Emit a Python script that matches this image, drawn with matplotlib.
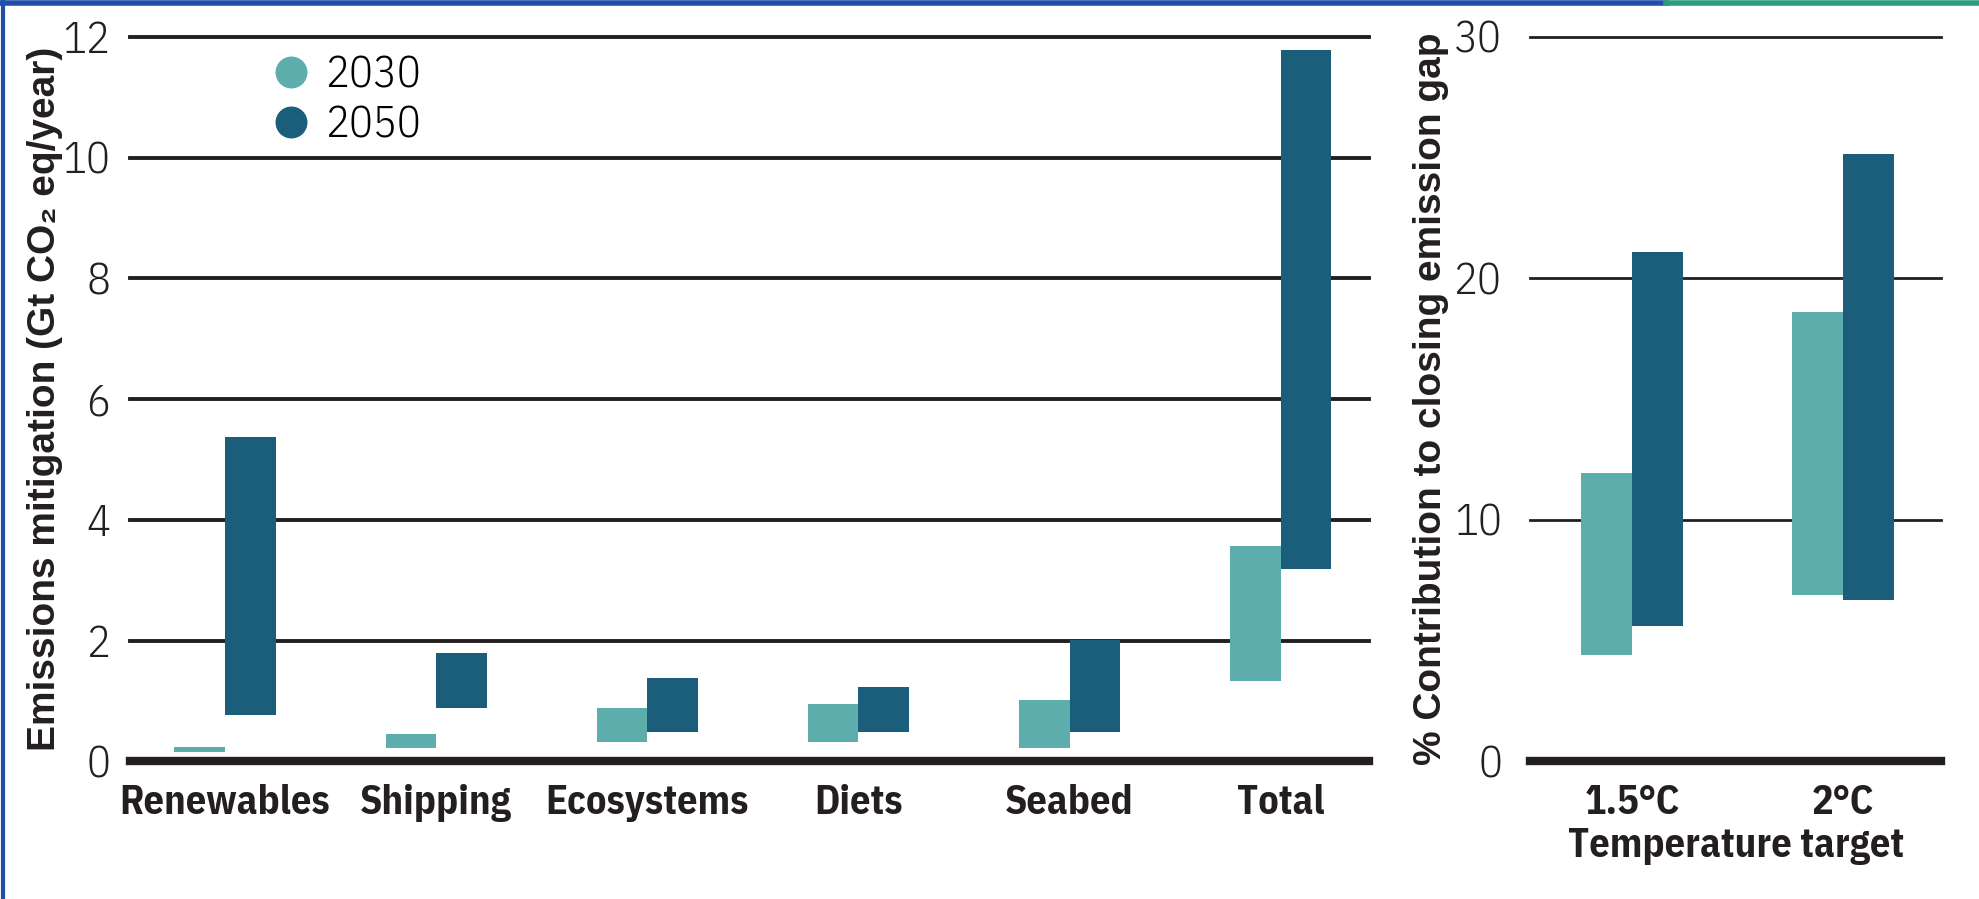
import matplotlib
matplotlib.use("Agg")
import numpy as np
import matplotlib.pyplot as plt
from matplotlib.lines import Line2D

# left panel: floating bars (bottom, top) in Gt CO2 eq/year
categories = ["Renewables", "Shipping", "Ecosystems", "Diets", "Seabed", "Total"]
low_2030 = [0.16, 0.23, 0.33, 0.33, 0.23, 1.33]
high_2030 = [0.24, 0.45, 0.89, 0.95, 1.01, 3.57]
low_2050 = [0.77, 0.89, 0.49, 0.49, 0.49, 3.18]
high_2050 = [5.38, 1.80, 1.38, 1.23, 2.01, 11.78]

# right panel: % contribution to closing emission gap
targets = ["1.5°C", "2°C"]
pct_low_2030 = [4.4, 6.9]
pct_high_2030 = [11.95, 18.6]
pct_low_2050 = [5.6, 6.7]
pct_high_2050 = [21.1, 25.15]

left_ticks = [0, 2, 4, 6, 8, 10, 12]
right_ticks = [0, 10, 20, 30]

c2030 = "#5eadad"
c2050 = "#1b5e7b"
ink = "#231f20"

cond = ["IBM Plex Sans Condensed", "DejaVu Sans"]
axis_font = ["Liberation Sans", "DejaVu Sans"]

fig = plt.figure(figsize=(19.79, 8.99), dpi=100)
ax1 = fig.add_axes([0.0657, 0.153, 0.6263, 0.806])
ax2 = fig.add_axes([0.773, 0.153, 0.208, 0.806])

w = 0.24


def floating(ax, n, lo30, hi30, lo50, hi50):
    x = np.arange(n)
    lo30, hi30 = np.array(lo30), np.array(hi30)
    lo50, hi50 = np.array(lo50), np.array(hi50)
    ax.bar(x - w / 2, hi30 - lo30, bottom=lo30, width=w, color=c2030, zorder=3)
    ax.bar(x + w / 2, hi50 - lo50, bottom=lo50, width=w, color=c2050, zorder=3)
    return x


x1 = floating(ax1, len(categories), low_2030, high_2030, low_2050, high_2050)
x2 = floating(ax2, len(targets), pct_low_2030, pct_high_2030, pct_low_2050, pct_high_2050)

ax1.set_xlim(-0.45, 5.42)
ax1.set_ylim(0, 12)
ax2.set_xlim(-0.485, 1.467)
ax2.set_ylim(0, 30)

for ax, ticks, lw, pad in [(ax1, left_ticks, 2.8, 14), (ax2, right_ticks, 2.0, 20)]:
    for t in ticks[1:]:
        ax.axhline(t, color=ink, lw=lw, zorder=1, clip_on=False)
    ax.axhline(0, color=ink, lw=6, zorder=4, clip_on=False)
    for s in ax.spines.values():
        s.set_visible(False)
    ax.set_yticks(ticks)
    ax.set_yticklabels([str(t) for t in ticks], family=cond, fontweight=300,
                       fontsize=32, color=ink)
    ax.tick_params(axis="y", length=0, pad=pad)
    ax.tick_params(axis="x", length=0, pad=16)

ax1.set_xticks(x1)
ax1.set_xticklabels(categories, family=cond, fontweight="bold", fontsize=29, color=ink)
ax2.set_xticks(x2)
ax2.set_xticklabels(targets, family=cond, fontweight="bold", fontsize=29, color=ink)

ax1.set_ylabel("Emissions mitigation (Gt CO₂ eq/year)", family=axis_font,
               fontweight="bold", fontsize=28, color=ink)
ax1.yaxis.set_label_coords(-0.054, 0.5)
ax2.set_ylabel("% Contribution to closing emission gap", family=axis_font,
               fontweight="bold", fontsize=28, color=ink)
ax2.yaxis.set_label_coords(-0.196, 0.5)
ax2.set_xlabel("Temperature target", family=cond, fontweight="bold",
               fontsize=29, color=ink, labelpad=4)

handles = [Line2D([], [], ls="", marker="o", ms=22, color=c2030),
           Line2D([], [], ls="", marker="o", ms=22, color=c2050)]
ax1.legend(handles, ["2030", "2050"], loc="upper left", bbox_to_anchor=(0.07, 1.03),
           frameon=False, handlelength=1.55, handletextpad=0.0, labelspacing=0.22,
           prop={"family": cond, "weight": 300, "size": 32})

# screenshot frame
fig.add_artist(Line2D([0, 0.842], [0.997, 0.997], color="#1f4fa8", lw=4))
fig.add_artist(Line2D([0.842, 1], [0.997, 0.997], color="#2a9d80", lw=4))
fig.add_artist(Line2D([0.0015, 0.0015], [0, 1], color="#1f4fa8", lw=3))

fig.savefig("out.png", dpi=100, facecolor="white")
